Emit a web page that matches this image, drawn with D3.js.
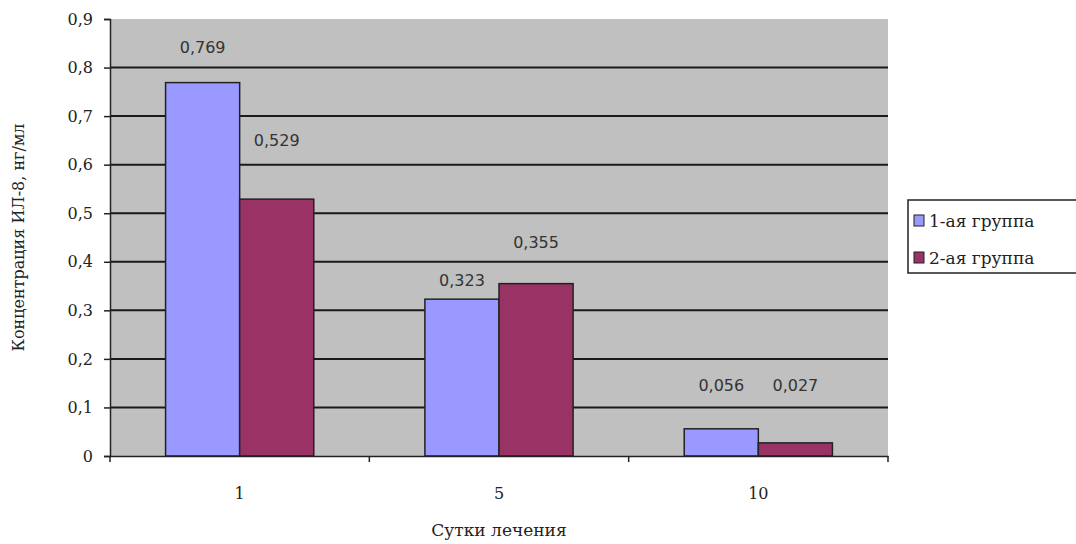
<!DOCTYPE html>
<html>
<head>
<meta charset="utf-8">
<script src="https://cdn.jsdelivr.net/npm/d3@7"></script>
<style>
  body { margin: 0; background: #fff; }
</style>
</head>
<body>
<svg id="chart" width="1076" height="544"></svg>
<script>
const days = ["1", "5", "10"];
const groupNames = ["1-ая группа", "2-ая группа"];
const group1 = [0.769, 0.323, 0.056];
const group2 = [0.529, 0.355, 0.027];
// where the (hand placed) value labels sit, in value units
const labelAt1 = [0.842, 0.362, 0.146];
const labelAt2 = [0.65, 0.44, 0.146];
const yTicks = [0, 0.1, 0.2, 0.3, 0.4, 0.5, 0.6, 0.7, 0.8, 0.9];
const colors = ["#9999ff", "#993366"];

const margin = { top: 19, right: 188, bottom: 88, left: 110 };
const width = 1076 - margin.left - margin.right;
const height = 544 - margin.top - margin.bottom;
const fmt = v => String(v).replace(".", ",");
const serif = "'DejaVu Serif', serif";

var svg = d3.select("#chart");
var g = svg.append("g").attr("transform", "translate(" + margin.left + "," + margin.top + ")");

const x = d3.scaleBand().domain(days).range([0, width]);
const y = d3.scaleLinear().domain([0, 0.9]).range([height, 0]);
const bw = x.bandwidth() / 3.5;

g.append("rect")
  .attr("width", width).attr("height", height)
  .attr("fill", "#c0c0c0");

g.selectAll(".grid")
  .data(yTicks.slice(1, -1))
  .enter().append("line")
  .attr("x1", 0).attr("x2", width)
  .attr("y1", d => y(d)).attr("y2", d => y(d))
  .attr("stroke", "#1a1a1a").attr("stroke-width", 2);

var rows = days.map((d, i) => [
  { day: d, s: 0, v: group1[i], lab: labelAt1[i] },
  { day: d, s: 1, v: group2[i], lab: labelAt2[i] }
]).flat();

g.selectAll(".bar")
  .data(rows)
  .enter().append("rect")
  .attr("x", d => x(d.day) + x.bandwidth() / 2 - bw + d.s * bw)
  .attr("y", d => y(d.v))
  .attr("width", bw)
  .attr("height", d => height - y(d.v))
  .attr("fill", d => colors[d.s])
  .attr("stroke", "#222").attr("stroke-width", 1.5);

g.selectAll(".val")
  .data(rows)
  .enter().append("text")
  .attr("x", d => x(d.day) + x.bandwidth() / 2 - bw / 2 + d.s * bw)
  .attr("y", d => y(d.lab))
  .attr("dy", "0.35em")
  .attr("text-anchor", "middle")
  .style("font-family", "'DejaVu Sans', sans-serif")
  .style("font-size", "16px")
  .style("fill", "#333")
  .text(d => fmt(d.v));

// axes
var yAxis = d3.axisLeft(y).tickValues(yTicks).tickSize(6).tickFormat(d => d === 0 ? "0" : fmt(d3.format(".1f")(d)));
g.append("g").call(yAxis)
  .call(a => a.select(".domain").attr("stroke", "#222").attr("stroke-width", 1.5))
  .call(a => a.selectAll(".tick line").attr("stroke", "#222").attr("stroke-width", 1.5))
  .call(a => a.selectAll(".tick text").attr("x", -17)
    .style("font-family", serif).style("font-size", "16px").style("fill", "#222"));

var xAxis = d3.axisBottom(x).tickSize(0);
var xa = g.append("g").attr("transform", "translate(0," + height + ")").call(xAxis);
xa.select(".domain").attr("stroke", "#222").attr("stroke-width", 1.5);
xa.selectAll(".tick text").attr("dy", "2.5em")
  .style("font-family", serif).style("font-size", "16px").style("fill", "#222");
xa.selectAll(".sep")
  .data([0, 1, 2, 3])
  .enter().append("line")
  .attr("x1", i => i * x.step()).attr("x2", i => i * x.step())
  .attr("y1", 0).attr("y2", 6)
  .attr("stroke", "#222").attr("stroke-width", 1.5);

g.append("text")
  .attr("x", width / 2).attr("y", height + 80)
  .attr("text-anchor", "middle")
  .style("font-family", serif).style("font-size", "17px").style("fill", "#222")
  .text("Сутки лечения");

svg.append("text")
  .attr("transform", "translate(24," + (margin.top + height / 2) + ") rotate(-90)")
  .attr("text-anchor", "middle")
  .style("font-family", serif).style("font-size", "16px").style("fill", "#222")
  .text("Концентрация ИЛ-8, нг/мл");

// legend
var lg = svg.append("g").attr("transform", "translate(908,200)");
lg.append("rect").attr("width", 175).attr("height", 73)
  .attr("fill", "#fff").attr("stroke", "#222").attr("stroke-width", 1.5);
groupNames.forEach((name, i) => {
  lg.append("rect").attr("x", 6).attr("y", 15 + i * 37).attr("width", 10).attr("height", 11)
    .attr("fill", colors[i]).attr("stroke", "#222");
  lg.append("text").attr("x", 21).attr("y", 21 + i * 37).attr("dy", "0.35em")
    .style("font-family", serif).style("font-size", "17px").style("fill", "#222")
    .text(name);
});
</script>
</body>
</html>
